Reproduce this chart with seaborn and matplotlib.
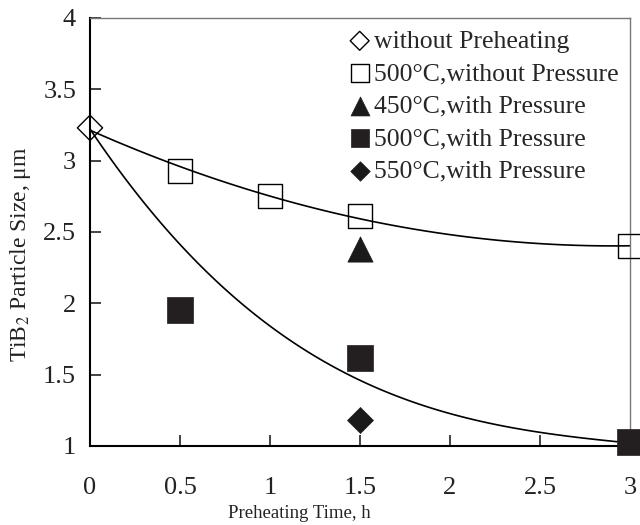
import matplotlib
matplotlib.use("Agg")
import matplotlib.pyplot as plt
import seaborn as sns
import numpy as np

############################################################################
# DATA
############################################################################

# without preheating
nopre_t = [0.0]
nopre_size = [3.23]

# 500C, without pressure
p500_nopress_t = [0.5, 1.0, 1.5, 3.0]
p500_nopress_size = [2.93, 2.75, 2.61, 2.40]

# 450C, with pressure
p450_press_t = [1.5]
p450_press_size = [2.38]

# 500C, with pressure
p500_press_t = [0.5, 1.5, 3.0]
p500_press_size = [1.95, 1.62, 1.03]

# 550C, with pressure
p550_press_t = [1.5]
p550_press_size = [1.18]

# points
lower_trend_t = [0.0, 0.5, 1.0, 1.5, 2.0, 2.5, 3.0]
lower_trend_size = [3.22, 2.42, 1.83, 1.47, 1.22, 1.10, 1.02]

x_ticks = [0, 0.5, 1, 1.5, 2, 2.5, 3]
x_tick_labels = ["0", "0.5", "1", "1.5", "2", "2.5", "3"]
y_ticks = [1, 1.5, 2, 2.5, 3, 3.5, 4]
y_tick_labels = ["1", "1.5", "2", "2.5", "3", "3.5", "4"]

############################################################################

def config_sns():
	sns.set_theme(style="white")
	plt.rcParams["font.family"] = ["Liberation Serif", "DejaVu Serif"]
	plt.rcParams["mathtext.fontset"] = "stix"

def main():
	config_sns()

	fig = plt.figure(figsize=(6.4, 5.25), dpi=100)
	ax = fig.add_axes([90/640, 79/525, 540/640, 428/525])

	# trend lines
	line_kws = dict(color="black", lw=1.2)
	sns.regplot(x=nopre_t + p500_nopress_t, y=nopre_size + p500_nopress_size,
				order=2, ci=None, scatter=False, truncate=True, line_kws=line_kws, ax=ax)
	sns.regplot(x=lower_trend_t, y=lower_trend_size,
				order=3, ci=None, scatter=False, truncate=True, line_kws=line_kws, ax=ax)

	# markers
	sns.scatterplot(x=nopre_t, y=nopre_size, marker="D", s=165, facecolor="none",
					edgecolor="black", linewidth=1, label="without Preheating", clip_on=False, zorder=5, ax=ax)
	sns.scatterplot(x=p500_nopress_t, y=p500_nopress_size, marker="s", s=300, facecolor="none",
					edgecolor="black", linewidth=1, label="500°C,without Pressure", clip_on=False, zorder=5, ax=ax)
	sns.scatterplot(x=p450_press_t, y=p450_press_size, marker="^", s=330, color="#1a1a1a",
					edgecolor="#1a1a1a", linewidth=0.5, label="450°C,with Pressure", clip_on=False, zorder=5, ax=ax)
	sns.scatterplot(x=p500_press_t, y=p500_press_size, marker="s", s=330, color="#231f20",
					edgecolor="#231f20", linewidth=0.5, label="500°C,with Pressure", clip_on=False, zorder=5, ax=ax)
	sns.scatterplot(x=p550_press_t, y=p550_press_size, marker="D", s=175, color="#1a1a1a",
					edgecolor="#1a1a1a", linewidth=0.5, label="550°C,with Pressure", clip_on=False, zorder=5, ax=ax)

	ax.set_xlim(0, 3)
	ax.set_ylim(1, 4)
	ax.set_xticks(x_ticks)
	ax.set_xticklabels(x_tick_labels)
	ax.set_yticks(y_ticks)
	ax.set_yticklabels(y_tick_labels)
	ax.tick_params(axis="both", direction="in", length=8, width=1.2, labelsize=19,
				   bottom=True, left=True, top=False, right=False, colors="#222222")
	ax.tick_params(axis="y", pad=10)
	ax.tick_params(axis="x", pad=22)

	for side in ["left", "bottom"]:
		ax.spines[side].set_color("black")
		ax.spines[side].set_linewidth(1.5)
	for side in ["top", "right"]:
		ax.spines[side].set_color("#777777")
		ax.spines[side].set_linewidth(1.0)

	ax.set_xlabel("Preheating Time, h", fontsize=13.5, color="#222222")
	ax.xaxis.set_label_coords(0.387, -0.138)
	ax.set_ylabel("TiB$_2$ Particle Size, μm", fontsize=17, color="#222222")
	ax.yaxis.set_label_coords(-0.106, 0.449)

	ax.legend(loc="upper right", frameon=False, fontsize=18.5, markerscale=0.75,
			  handletextpad=0.05, handlelength=1.0, labelspacing=0.37,
			  borderaxespad=0.1, borderpad=0.35)

	fig.savefig("out.png", dpi=100)

if __name__ == "__main__":
	main()
